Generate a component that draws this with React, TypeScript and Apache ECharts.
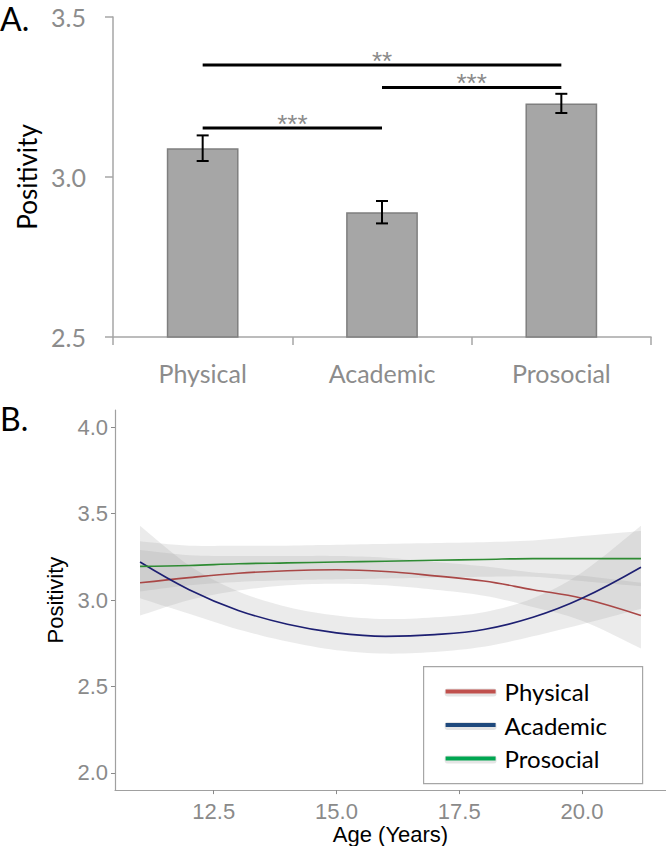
import React, { useEffect, useRef } from 'react';
import * as echarts from 'echarts';

// ---------- Panel A data ----------
const barCategories = ['Physical', 'Academic', 'Prosocial'];
const barMeans = [3.09, 2.89, 3.23];
const barErrors = [0.04, 0.035, 0.03];
const yTicksA = [2.5, 3.0, 3.5];

const sigFrom = [0, 1, 0];
const sigTo = [2, 2, 1];
const sigHeights = [3.35, 3.28, 3.153];
const sigLabels = ['**', '***', '***'];

// ---------- Panel B data ----------
const ageX = [11, 12, 13, 14, 15, 16, 17, 18, 19, 20, 21.2];
const physicalFit = [3.10, 3.13, 3.155, 3.17, 3.175, 3.165, 3.14, 3.11, 3.06, 3.01, 2.91];
const physicalCI = [0.19, 0.13, 0.1, 0.085, 0.08, 0.08, 0.08, 0.085, 0.1, 0.13, 0.19];
const academicFit = [3.22, 3.06, 2.94, 2.86, 2.81, 2.79, 2.80, 2.83, 2.90, 3.01, 3.19];
const academicCI = [0.21, 0.14, 0.11, 0.1, 0.1, 0.1, 0.1, 0.1, 0.11, 0.15, 0.24];
const prosocialFit = [3.195, 3.20, 3.21, 3.215, 3.22, 3.225, 3.23, 3.235, 3.24, 3.24, 3.24];
const prosocialCI = [0.145, 0.115, 0.105, 0.1, 0.1, 0.1, 0.1, 0.1, 0.105, 0.13, 0.16];
const xTicksB = [12.5, 15.0, 17.5, 20.0];
const yTicksB = [2.0, 2.5, 3.0, 3.5, 4.0];
const legendNames = ['Physical', 'Academic', 'Prosocial'];

const lineColors = ['#a94746', '#1d1f72', '#2e8b33'];
const legendColors = ['#c0504d', '#1f497d', '#00a651'];

function catmull(pts: number[][], steps = 8): number[][] {
  const out: number[][] = [];
  for (let i = 0; i < pts.length - 1; i++) {
    const p0 = pts[Math.max(0, i - 1)];
    const p1 = pts[i];
    const p2 = pts[i + 1];
    const p3 = pts[Math.min(pts.length - 1, i + 2)];
    for (let s = 0; s < steps; s++) {
      const t = s / steps;
      const t2 = t * t, t3 = t2 * t;
      const f = (a: number, b: number, c: number, d: number) =>
        0.5 * (2 * b + (-a + c) * t + (2 * a - 5 * b + 4 * c - d) * t2 + (-a + 3 * b - 3 * c + d) * t3);
      out.push([f(p0[0], p1[0], p2[0], p3[0]), f(p0[1], p1[1], p2[1], p3[1])]);
    }
  }
  out.push(pts[pts.length - 1]);
  return out;
}

function ribbonSeries(fit: number[], ci: number[]) {
  return {
    type: 'custom',
    xAxisIndex: 1,
    yAxisIndex: 1,
    silent: true,
    z: 1,
    data: ageX.map((x, i) => [x, fit[i]]),
    renderItem: (params: any, api: any) => {
      if (params.dataIndex !== 0) return null;
      const up = ageX.map((x, i) => api.coord([x, fit[i] + ci[i]]));
      const lo = ageX.map((x, i) => api.coord([x, fit[i] - ci[i]]));
      const pts = catmull(up).concat(catmull(lo).reverse());
      return {
        type: 'polygon',
        shape: { points: pts },
        style: { fill: 'rgba(153,153,153,0.2)', stroke: 'none' },
      };
    },
  };
}

function fitSeries(name: string, fit: number[], color: string) {
  return {
    type: 'line',
    name,
    xAxisIndex: 1,
    yAxisIndex: 1,
    data: ageX.map((x, i) => [x, fit[i]]),
    smooth: 0.4,
    symbol: 'none',
    z: 3,
    lineStyle: { color, width: 1.6 },
  };
}

export default function App() {
  const ref = useRef<HTMLDivElement>(null);
  useEffect(() => {
    if (!ref.current) return;
    const chart = echarts.init(ref.current, null, { renderer: 'svg' });
    const greyA = '#8c8c8c';
    const axisA = '#a6a6a6';
    const fontA = 'Lato, sans-serif';
    const fontB = '"Liberation Sans", Arial, sans-serif';

    const option: any = {
      animation: false,
      backgroundColor: '#ffffff',
      grid: [
        { left: 113, top: 17, width: 538, height: 320 },
        { left: 115, top: 410, width: 551, height: 383 },
      ],
      xAxis: [
        {
          type: 'category',
          gridIndex: 0,
          data: barCategories,
          axisLine: { lineStyle: { color: axisA, width: 1.5 } },
          axisTick: { show: true, length: 8, lineStyle: { color: axisA, width: 1.5 } },
          axisLabel: { color: greyA, fontFamily: fontA, fontSize: 25, margin: 23 },
          splitLine: { show: false },
        },
        {
          type: 'value',
          gridIndex: 1,
          min: 10.49,
          max: 21.71,
          axisLine: { show: true, lineStyle: { color: '#a0a0a0', width: 1.2 } },
          axisTick: { show: true, length: 4, customValues: xTicksB, lineStyle: { color: '#8a8a8a' } },
          axisLabel: {
            customValues: xTicksB,
            formatter: (v: number) => v.toFixed(1),
            color: '#8a8a8a',
            fontFamily: fontB,
            fontSize: 22,
            margin: 10,
          },
          splitLine: { show: false },
          name: 'Age (Years)',
          nameLocation: 'middle',
          nameGap: 31,
          nameTextStyle: { color: '#000', fontFamily: fontB, fontSize: 22 },
        },
      ],
      yAxis: [
        {
          type: 'value',
          gridIndex: 0,
          min: 2.5,
          max: 3.5,
          interval: 0.5,
          axisLine: { show: true, lineStyle: { color: axisA, width: 1.5 } },
          axisTick: { show: true, length: 8, lineStyle: { color: axisA, width: 1.5 } },
          axisLabel: {
            customValues: yTicksA,
            formatter: (v: number) => v.toFixed(1),
            color: greyA,
            fontFamily: fontA,
            fontSize: 25,
            margin: 27,
          },
          splitLine: { show: false },
          name: 'Positivity',
          nameLocation: 'middle',
          nameGap: 68,
          nameTextStyle: { color: '#000', fontFamily: fontA, fontSize: 26 },
        },
        {
          type: 'value',
          gridIndex: 1,
          min: 1.9,
          max: 4.1,
          axisLine: { show: true, lineStyle: { color: '#a0a0a0', width: 1.2 } },
          axisTick: { show: true, length: 4, customValues: yTicksB, lineStyle: { color: '#8a8a8a' } },
          axisLabel: {
            customValues: yTicksB,
            formatter: (v: number) => v.toFixed(1),
            color: '#8a8a8a',
            fontFamily: fontB,
            fontSize: 22,
            margin: 7,
          },
          splitLine: { show: false },
          name: 'Positivity',
          nameLocation: 'middle',
          nameGap: 45,
          nameTextStyle: { color: '#000', fontFamily: fontB, fontSize: 22 },
        },
      ],
      series: [
        {
          type: 'bar',
          xAxisIndex: 0,
          yAxisIndex: 0,
          data: barMeans,
          barWidth: '40%',
          itemStyle: { color: '#a6a6a6', borderColor: '#7f7f7f', borderWidth: 1.5 },
        },
        {
          type: 'custom',
          xAxisIndex: 0,
          yAxisIndex: 0,
          z: 5,
          data: barMeans.map((m, i) => [i, m - barErrors[i], m + barErrors[i]]),
          renderItem: (params: any, api: any) => {
            const lo = api.coord([api.value(0), api.value(1)]);
            const hi = api.coord([api.value(0), api.value(2)]);
            const w = 6;
            const st = { stroke: '#000', lineWidth: 2 };
            return {
              type: 'group',
              children: [
                { type: 'line', shape: { x1: lo[0], y1: lo[1], x2: hi[0], y2: hi[1] }, style: st },
                { type: 'line', shape: { x1: lo[0] - w, y1: lo[1], x2: lo[0] + w, y2: lo[1] }, style: st },
                { type: 'line', shape: { x1: hi[0] - w, y1: hi[1], x2: hi[0] + w, y2: hi[1] }, style: st },
              ],
            };
          },
        },
        {
          type: 'custom',
          xAxisIndex: 0,
          yAxisIndex: 0,
          z: 5,
          data: sigHeights.map((h, i) => [sigFrom[i], sigTo[i], h]),
          renderItem: (params: any, api: any) => {
            const i = params.dataIndex;
            const p1 = api.coord([sigFrom[i], sigHeights[i]]);
            const p2 = api.coord([sigTo[i], sigHeights[i]]);
            return {
              type: 'group',
              children: [
                { type: 'line', shape: { x1: p1[0], y1: p1[1], x2: p2[0], y2: p2[1] }, style: { stroke: '#000', lineWidth: 3 } },
                {
                  type: 'text',
                  x: (p1[0] + p2[0]) / 2,
                  y: p1[1] - 4,
                  style: {
                    text: sigLabels[i],
                    fill: '#8a8a8a',
                    fontFamily: '"Liberation Sans", Arial, sans-serif',
                    fontSize: 26,
                    align: 'center',
                    verticalAlign: 'middle',
                  },
                },
              ],
            };
          },
        },
        ribbonSeries(physicalFit, physicalCI),
        ribbonSeries(academicFit, academicCI),
        ribbonSeries(prosocialFit, prosocialCI),
        fitSeries('Physical', physicalFit, lineColors[0]),
        fitSeries('Academic', academicFit, lineColors[1]),
        fitSeries('Prosocial', prosocialFit, lineColors[2]),
      ],
      graphic: [
        { type: 'text', left: 0, top: 2, style: { text: 'A.', fontFamily: fontA, fontSize: 32, fill: '#000' } },
        { type: 'text', left: 0, top: 402, style: { text: 'B.', fontFamily: fontA, fontSize: 32, fill: '#000' } },
        {
          type: 'group',
          left: 423,
          top: 666,
          children: [
            { type: 'rect', shape: { x: 0, y: 0, width: 219, height: 117 }, style: { fill: '#fff', stroke: '#a6a6a6', lineWidth: 1.2 } },
            ...legendNames.flatMap((n, i) => [
              {
                type: 'rect',
                shape: { x: 21, y: 22 + i * 33.5, width: 52, height: 8, r: 3 },
                style: { fill: 'rgba(0,0,0,0.1)' },
              },
              {
                type: 'line',
                shape: { x1: 22, y1: 25 + i * 33.5, x2: 72, y2: 25 + i * 33.5 },
                style: { stroke: legendColors[i], lineWidth: 4 },
              },
              {
                type: 'text',
                x: 81,
                y: 25 + i * 33.5,
                style: { text: n, fontFamily: fontA, fontSize: 24, fill: '#000', verticalAlign: 'middle' },
              },
            ]),
          ],
        },
      ],
    };
    chart.setOption(option);
    return () => chart.dispose();
  }, []);
  return (
    <div
      ref={ref}
      style={{ position: 'fixed', left: 0, top: 0, width: 666, height: 846, background: '#fff' }}
    />
  );
}
